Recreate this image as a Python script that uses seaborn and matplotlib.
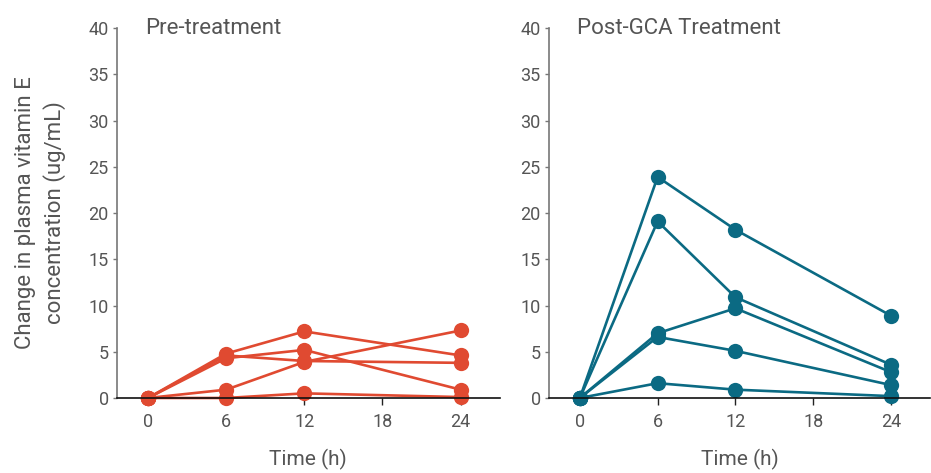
import pandas as pd
import matplotlib
matplotlib.use("Agg")
import matplotlib.pyplot as plt
import seaborn as sns

# Time points (h)
times = [0, 6, 12, 24]

# Pre-treatment subjects (change in plasma vitamin E, ug/mL)
pre_a = [0, 4.8, 7.2, 4.6]
pre_b = [0, 0.9, 3.9, 7.3]
pre_c = [0, 4.3, 5.2, 0.9]
pre_d = [0, 4.6, 4.0, 3.8]
pre_e = [0, 0.0, 0.5, 0.1]

# Post-GCA treatment subjects
post_a = [0, 23.9, 18.2, 8.9]
post_b = [0, 19.1, 10.9, 3.6]
post_c = [0, 7.0, 9.7, 2.8]
post_d = [0, 6.6, 5.1, 1.4]
post_e = [0, 1.6, 0.9, 0.2]

x_ticks = [0, 6, 12, 18, 24]
y_ticks = [0, 5, 10, 15, 20, 25, 30, 35, 40]


def to_long(series):
    rows = []
    for name, vals in series.items():
        for t, v in zip(times, vals):
            rows.append({"subject": name, "time": t, "change": v})
    return pd.DataFrame(rows)


df_pre = to_long({"A": pre_a, "B": pre_b, "C": pre_c, "D": pre_d, "E": pre_e})
df_post = to_long({"A": post_a, "B": post_b, "C": post_c, "D": post_d, "E": post_e})

sns.set_style("white")
plt.rcParams["font.family"] = ["Roboto", "DejaVu Sans"]

text_col = "#555555"
fig = plt.figure(figsize=(9.31, 4.73), dpi=100)
ax1 = fig.add_axes([0.1257, 0.1586, 0.411, 0.782])
ax2 = fig.add_axes([0.5897, 0.1586, 0.409, 0.782])

panels = [
    (ax1, df_pre, "#e04a31", "Pre-treatment"),
    (ax2, df_post, "#0b6a83", "Post-GCA Treatment"),
]

for ax, data, col, title in panels:
    sns.lineplot(data=data, x="time", y="change", units="subject", estimator=None,
                 color=col, marker="o", markersize=11, markeredgewidth=0,
                 linewidth=1.9, ax=ax, legend=False)
    for ln in ax.lines:
        ln.set_clip_on(False)
    ax.set_xlim(-2.38, 27.0)
    ax.set_ylim(0, 40)
    ax.set_xticks(x_ticks)
    ax.set_yticks(y_ticks)
    ax.tick_params(axis="x", colors="#222222", labelcolor=text_col, length=5,
                   width=1, direction="out", labelsize=13, pad=6, bottom=True)
    ax.tick_params(axis="y", colors="#777777", labelcolor=text_col, length=3,
                   width=1, direction="out", labelsize=13, pad=3, left=True)
    sns.despine(ax=ax)
    ax.spines["left"].set_color("#777777")
    ax.spines["left"].set_linewidth(1.2)
    ax.spines["bottom"].set_color("#111111")
    ax.spines["bottom"].set_linewidth(1.2)
    ax.set_xlabel("Time (h)", fontsize=15, color=text_col, labelpad=13)
    ax.set_ylabel("")
    ax.text(-0.2, 40, title, fontsize=16, color=text_col, va="center", ha="left")

ax1.set_ylabel("Change in plasma vitamin E\nconcentration (ug/mL)", fontsize=16,
               color=text_col, labelpad=16, linespacing=1.4)

fig.savefig("out.png", dpi=100)
